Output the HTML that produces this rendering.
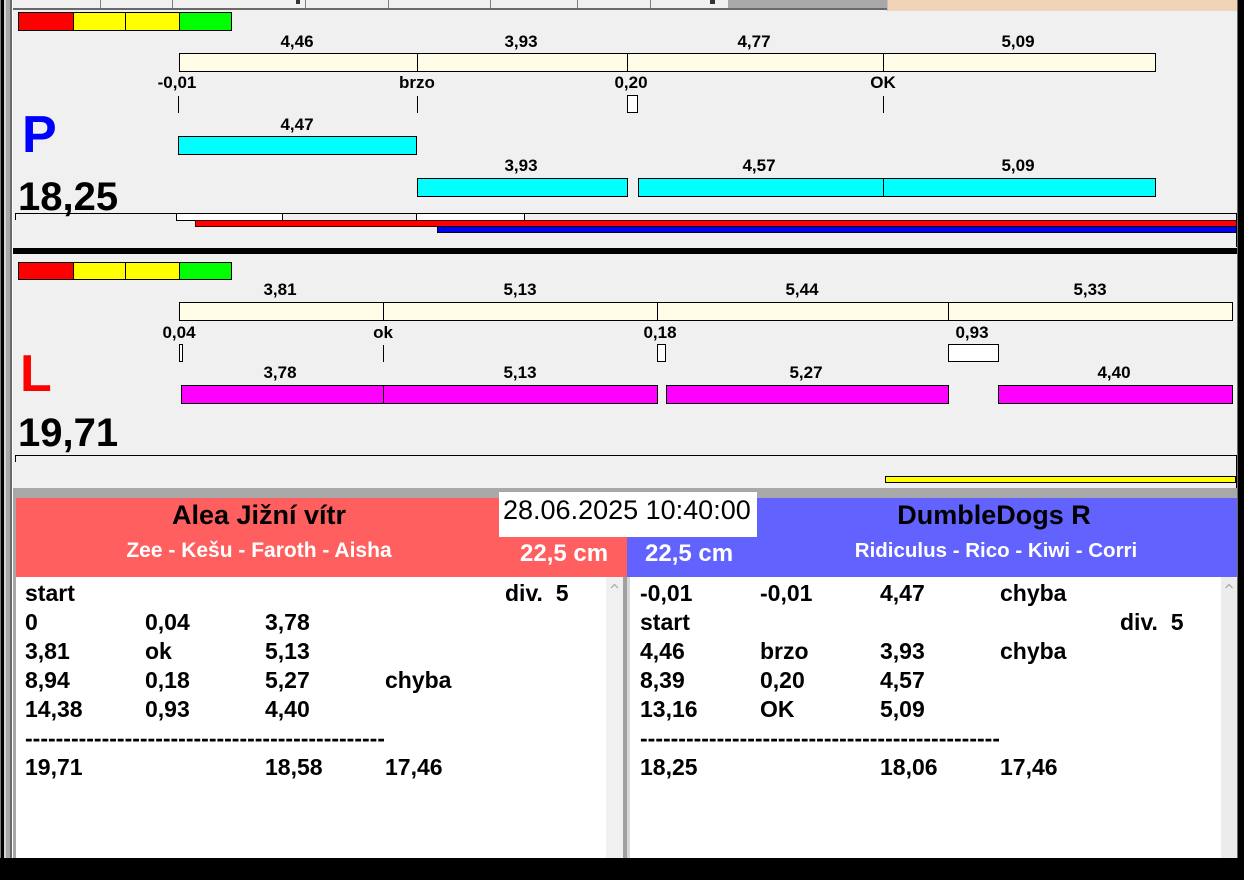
<!DOCTYPE html>
<html><head><meta charset="utf-8">
<style>
*{margin:0;padding:0;box-sizing:border-box}
html,body{width:1244px;height:880px;overflow:hidden;background:#f0f0f0;position:relative;font-family:"Liberation Sans",Arial,sans-serif}
.a{position:absolute}
.b{position:absolute;border:1px solid #000}
.l{position:absolute;width:100px;text-align:center;font-weight:bold;font-size:17px;line-height:17px;color:#000;white-space:nowrap}
.t{position:absolute;font-weight:bold;font-size:23px;line-height:29px;color:#000;white-space:pre}
.vl{position:absolute;width:1px;background:#000}
</style></head><body>

<!-- left frame -->
<div class="a" style="left:0;top:0;width:1px;height:880px;background:#808080"></div>
<div class="a" style="left:1px;top:0;width:3px;height:880px;background:#000"></div>
<div class="a" style="left:4px;top:0;width:2px;height:880px;background:#d4d4d4"></div>
<div class="a" style="left:6px;top:0;width:4px;height:880px;background:#a8a8a8"></div>
<div class="a" style="left:10px;top:0;width:2px;height:880px;background:#6a6a6a"></div>
<div class="a" style="left:12px;top:0;width:1px;height:880px;background:#fff"></div>
<!-- right frame -->
<div class="a" style="left:1237px;top:0;width:1px;height:880px;background:#696969"></div>
<div class="a" style="left:1238px;top:0;width:6px;height:880px;background:#000"></div>

<!-- tab strip -->
<div class="a" style="left:13px;top:0;width:715px;height:8px;background:#f0f0f0"></div>
<div class="a" style="left:728px;top:0;width:160px;height:9px;background:#a8a8a8"></div>
<div class="a" style="left:888px;top:0;width:349px;height:11px;background:#f1d3b8"></div>
<div class="a" style="left:13px;top:8px;width:875px;height:2px;background:#696969"></div>
<div class="a" style="left:100px;top:0;width:1px;height:8px;background:#808080"></div>
<div class="a" style="left:172px;top:0;width:1px;height:8px;background:#808080"></div>
<div class="a" style="left:305px;top:0;width:1px;height:8px;background:#808080"></div>
<div class="a" style="left:388px;top:0;width:1px;height:8px;background:#808080"></div>
<div class="a" style="left:490px;top:0;width:1px;height:8px;background:#808080"></div>
<div class="a" style="left:577px;top:0;width:1px;height:8px;background:#808080"></div>
<div class="a" style="left:650px;top:0;width:1px;height:8px;background:#808080"></div>
<div class="a" style="left:296px;top:0;width:4px;height:4px;background:#333"></div>
<div class="a" style="left:710px;top:0;width:5px;height:4px;background:#333"></div>
<div class="a" style="left:887px;top:0;width:1px;height:11px;background:#c0c0c0"></div>

<!-- ===== P panel ===== -->
<div class="a" style="left:18px;top:12px;width:56px;height:19px;background:#f00;border:1px solid #000"></div>
<div class="a" style="left:73px;top:12px;width:53px;height:19px;background:#ff0;border:1px solid #000"></div>
<div class="a" style="left:125px;top:12px;width:55px;height:19px;background:#ff0;border:1px solid #000"></div>
<div class="a" style="left:179px;top:12px;width:53px;height:19px;background:#0f0;border:1px solid #000"></div>

<div class="l" style="left:247px;top:33px">4,46</div>
<div class="l" style="left:471px;top:33px">3,93</div>
<div class="l" style="left:704px;top:33px">4,77</div>
<div class="l" style="left:968px;top:33px">5,09</div>

<div class="b" style="left:179px;top:53px;width:977px;height:19px;background:#fffde7"></div>
<div class="vl" style="left:417px;top:53px;height:19px"></div>
<div class="vl" style="left:627px;top:53px;height:19px"></div>
<div class="vl" style="left:883px;top:53px;height:19px"></div>

<div class="l" style="left:127px;top:74px">-0,01</div>
<div class="l" style="left:367px;top:74px">brzo</div>
<div class="l" style="left:581px;top:74px">0,20</div>
<div class="l" style="left:833px;top:74px">OK</div>

<div class="vl" style="left:178px;top:96px;height:17px"></div>
<div class="vl" style="left:417px;top:96px;height:17px"></div>
<div class="b" style="left:627px;top:95px;width:11px;height:18px;background:#fff"></div>
<div class="vl" style="left:883px;top:96px;height:17px"></div>

<div class="a" style="left:22px;top:109px;font-weight:bold;font-size:52px;line-height:52px;color:#0000ff">P</div>

<div class="l" style="left:247px;top:116px">4,47</div>
<div class="b" style="left:178px;top:136px;width:239px;height:19px;background:#0ff"></div>

<div class="l" style="left:471px;top:157px">3,93</div>
<div class="l" style="left:709px;top:157px">4,57</div>
<div class="l" style="left:968px;top:157px">5,09</div>
<div class="b" style="left:417px;top:178px;width:211px;height:19px;background:#0ff"></div>
<div class="b" style="left:638px;top:178px;width:518px;height:19px;background:#0ff"></div>
<div class="vl" style="left:883px;top:178px;height:19px"></div>

<div class="a" style="left:18px;top:177px;font-weight:bold;font-size:40px;line-height:40px;color:#000">18,25</div>

<div class="a" style="left:15px;top:213px;width:1222px;height:1px;background:#000"></div>
<div class="vl" style="left:15px;top:213px;height:7px"></div>
<div class="b" style="left:176px;top:213px;width:107px;height:8px;background:#fff"></div>
<div class="b" style="left:416px;top:213px;width:109px;height:8px;background:#fff"></div>
<div class="a" style="left:195px;top:220px;width:1042px;height:7px;background:#f00;border:1px solid #400"></div>
<div class="a" style="left:437px;top:226px;width:800px;height:7px;background:#0000ee;border:1px solid #002"></div>
<div class="vl" style="left:1236px;top:213px;height:34px"></div>

<div class="a" style="left:13px;top:248px;width:1224px;height:6px;background:#000"></div>

<!-- ===== L panel ===== -->
<div class="a" style="left:18px;top:262px;width:56px;height:18px;background:#f00;border:1px solid #000"></div>
<div class="a" style="left:73px;top:262px;width:53px;height:18px;background:#ff0;border:1px solid #000"></div>
<div class="a" style="left:125px;top:262px;width:55px;height:18px;background:#ff0;border:1px solid #000"></div>
<div class="a" style="left:179px;top:262px;width:53px;height:18px;background:#0f0;border:1px solid #000"></div>

<div class="l" style="left:230px;top:281px">3,81</div>
<div class="l" style="left:470px;top:281px">5,13</div>
<div class="l" style="left:752px;top:281px">5,44</div>
<div class="l" style="left:1040px;top:281px">5,33</div>

<div class="b" style="left:179px;top:302px;width:1054px;height:19px;background:#fffde7"></div>
<div class="vl" style="left:383px;top:302px;height:19px"></div>
<div class="vl" style="left:657px;top:302px;height:19px"></div>
<div class="vl" style="left:948px;top:302px;height:19px"></div>

<div class="l" style="left:129px;top:324px">0,04</div>
<div class="l" style="left:333px;top:324px">ok</div>
<div class="l" style="left:610px;top:324px">0,18</div>
<div class="l" style="left:922px;top:324px">0,93</div>

<div class="b" style="left:179px;top:344px;width:4px;height:18px;background:#fff"></div>
<div class="vl" style="left:383px;top:345px;height:17px"></div>
<div class="b" style="left:657px;top:344px;width:9px;height:18px;background:#fff"></div>
<div class="b" style="left:948px;top:344px;width:51px;height:18px;background:#fff"></div>

<div class="a" style="left:20px;top:348px;font-weight:bold;font-size:52px;line-height:52px;color:#ff0000">L</div>

<div class="l" style="left:230px;top:364px">3,78</div>
<div class="l" style="left:470px;top:364px">5,13</div>
<div class="l" style="left:756px;top:364px">5,27</div>
<div class="l" style="left:1064px;top:364px">4,40</div>
<div class="b" style="left:181px;top:385px;width:477px;height:19px;background:#f0f"></div>
<div class="vl" style="left:383px;top:385px;height:19px"></div>
<div class="b" style="left:666px;top:385px;width:283px;height:19px;background:#f0f"></div>
<div class="b" style="left:998px;top:385px;width:235px;height:19px;background:#f0f"></div>

<div class="a" style="left:18px;top:413px;font-weight:bold;font-size:40px;line-height:40px;color:#000">19,71</div>

<div class="a" style="left:15px;top:455px;width:1222px;height:1px;background:#000"></div>
<div class="vl" style="left:15px;top:455px;height:7px"></div>
<div class="vl" style="left:1236px;top:455px;height:33px"></div>
<div class="a" style="left:885px;top:476px;width:351px;height:7px;background:#ff0;border:1px solid #000"></div>

<!-- ===== bottom section ===== -->
<div class="a" style="left:13px;top:488px;width:1224px;height:10px;background:#a8a8a8"></div>
<div class="a" style="left:13px;top:498px;width:3px;height:360px;background:#a8a8a8"></div>
<div class="a" style="left:16px;top:498px;width:611px;height:79px;background:#ff5f5f"></div>
<div class="a" style="left:627px;top:498px;width:610px;height:79px;background:#6262ff"></div>
<div class="a" style="left:499px;top:492px;width:258px;height:45px;background:#fff"></div>
<div class="a" style="left:503px;top:497px;font-size:27px;line-height:27px;color:#000;white-space:nowrap">28.06.2025 10:40:00</div>

<div class="a" style="left:59px;top:502px;width:400px;text-align:center;font-weight:bold;font-size:27px;line-height:27px;color:#000;white-space:nowrap">Alea Jižní vítr</div>
<div class="a" style="left:59px;top:540px;width:400px;text-align:center;font-weight:bold;font-size:21px;line-height:21px;color:#fff;white-space:nowrap">Zee - Kešu - Faroth - Aisha</div>
<div class="a" style="left:520px;top:542px;font-weight:bold;font-size:24px;line-height:24px;color:#fff;white-space:nowrap">22,5 cm</div>

<div class="a" style="left:794px;top:502px;width:400px;text-align:center;font-weight:bold;font-size:27px;line-height:27px;color:#000;white-space:nowrap">DumbleDogs R</div>
<div class="a" style="left:796px;top:540px;width:400px;text-align:center;font-weight:bold;font-size:20.5px;line-height:21px;color:#fff;white-space:nowrap">Ridiculus - Rico - Kiwi - Corri</div>
<div class="a" style="left:645px;top:542px;font-weight:bold;font-size:24px;line-height:24px;color:#fff;white-space:nowrap">22,5 cm</div>

<!-- lists -->
<div class="a" style="left:16px;top:577px;width:590px;height:281px;background:#fff"></div>
<div class="a" style="left:606px;top:577px;width:17px;height:281px;background:#f0f0f0"></div>
<div class="a" style="left:623px;top:577px;width:4px;height:281px;background:#a0a0a0"></div>
<div class="a" style="left:627px;top:577px;width:3px;height:281px;background:#d8d8d8"></div>
<div class="a" style="left:630px;top:577px;width:591px;height:281px;background:#fff"></div>
<div class="a" style="left:1221px;top:577px;width:16px;height:281px;background:#ececec"></div>
<svg class="a" style="left:606px;top:580px" width="17" height="14"><polyline points="5,8 8.5,4.5 12,8" fill="none" stroke="#a6a6a6" stroke-width="1.2"/></svg>
<svg class="a" style="left:1221px;top:580px" width="16" height="14"><polyline points="4.5,8 8,4.5 11.5,8" fill="none" stroke="#a6a6a6" stroke-width="1.2"/></svg>

<!-- left list text -->
<div class="t" style="left:25px;top:579px">start</div>
<div class="t" style="left:505px;top:579px">div.  5</div>
<div class="t" style="left:25px;top:608px">0</div>
<div class="t" style="left:145px;top:608px">0,04</div>
<div class="t" style="left:265px;top:608px">3,78</div>
<div class="t" style="left:25px;top:637px">3,81</div>
<div class="t" style="left:145px;top:637px">ok</div>
<div class="t" style="left:265px;top:637px">5,13</div>
<div class="t" style="left:25px;top:666px">8,94</div>
<div class="t" style="left:145px;top:666px">0,18</div>
<div class="t" style="left:265px;top:666px">5,27</div>
<div class="t" style="left:385px;top:666px">chyba</div>
<div class="t" style="left:25px;top:695px">14,38</div>
<div class="t" style="left:145px;top:695px">0,93</div>
<div class="t" style="left:265px;top:695px">4,40</div>
<div class="t" style="left:25px;top:724px;width:359px;overflow:hidden">--------------------------------------------------------</div>
<div class="t" style="left:25px;top:753px">19,71</div>
<div class="t" style="left:265px;top:753px">18,58</div>
<div class="t" style="left:385px;top:753px">17,46</div>

<!-- right list text -->
<div class="t" style="left:640px;top:579px">-0,01</div>
<div class="t" style="left:760px;top:579px">-0,01</div>
<div class="t" style="left:880px;top:579px">4,47</div>
<div class="t" style="left:1000px;top:579px">chyba</div>
<div class="t" style="left:640px;top:608px">start</div>
<div class="t" style="left:1120px;top:608px">div.  5</div>
<div class="t" style="left:640px;top:637px">4,46</div>
<div class="t" style="left:760px;top:637px">brzo</div>
<div class="t" style="left:880px;top:637px">3,93</div>
<div class="t" style="left:1000px;top:637px">chyba</div>
<div class="t" style="left:640px;top:666px">8,39</div>
<div class="t" style="left:760px;top:666px">0,20</div>
<div class="t" style="left:880px;top:666px">4,57</div>
<div class="t" style="left:640px;top:695px">13,16</div>
<div class="t" style="left:760px;top:695px">OK</div>
<div class="t" style="left:880px;top:695px">5,09</div>
<div class="t" style="left:640px;top:724px;width:359px;overflow:hidden">--------------------------------------------------------</div>
<div class="t" style="left:640px;top:753px">18,25</div>
<div class="t" style="left:880px;top:753px">18,06</div>
<div class="t" style="left:1000px;top:753px">17,46</div>

<!-- bottom black -->
<div class="a" style="left:0;top:858px;width:1244px;height:22px;background:#000"></div>
</body></html>
